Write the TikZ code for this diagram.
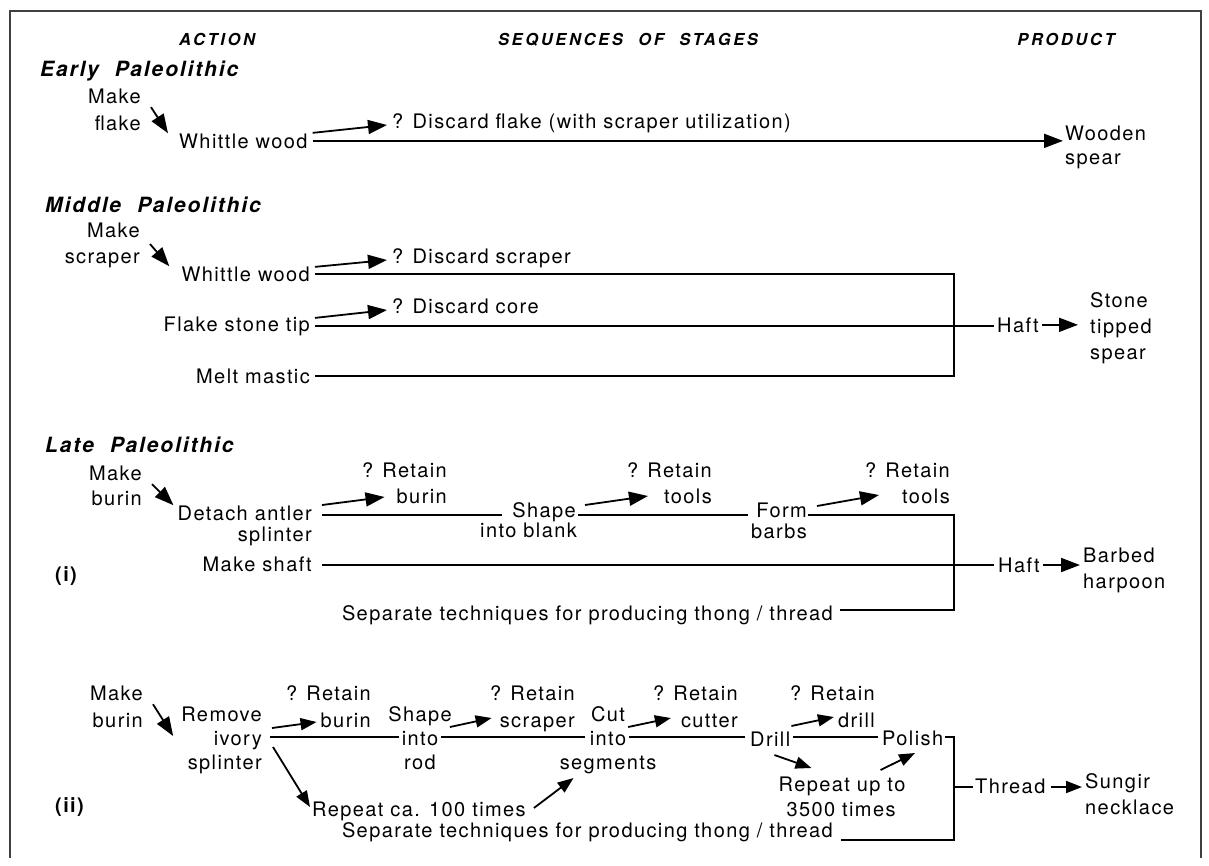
\documentclass[tikz,border=0pt]{standalone}
\usepackage{fontspec}
\setmainfont{TeX Gyre Heros}[LetterSpace=7]
\newfontfamily\headfont{TeX Gyre Heros}[LetterSpace=16]
\newfontfamily\erafont{TeX Gyre Heros}[LetterSpace=9]
\usetikzlibrary{arrows.meta,calc}

\tikzset{
  lbl/.style={font=\fontsize{20}{24}\selectfont, inner sep=0pt},
  lbe/.style={lbl, anchor=base east},
  lbw/.style={lbl, anchor=base west},
  lbc/.style={lbl, anchor=base},
  colhead/.style={font=\headfont\bfseries\itshape\fontsize{16.5}{20}\selectfont, inner sep=0pt, anchor=base},
  era/.style={font=\erafont\bfseries\itshape\fontsize{21}{25}\selectfont, inner sep=0pt, anchor=base west},
  tag/.style={font=\bfseries\fontsize{20}{24}\selectfont, inner sep=0pt, anchor=base west},
  link/.style={line width=1.8pt},
  arr/.style={line width=1.8pt, -{Triangle[length=19pt,width=14pt]}},
  sarr/.style={line width=1.8pt, -{Triangle[length=16pt,width=12pt]}},
  frame/.style={line width=1.2pt, black!75},
}

\begin{document}
\begin{tikzpicture}[x=1pt,y=-1pt]
\useasboundingbox (0,0) rectangle (1209,865);

% outer frame (open at the foot)
\draw[frame] (10,858) -- (10,11) -- (1201,11) -- (1201,858);

% column headings
\node[colhead] (hAct) at (217,45) {ACTION};
\node[colhead] (hSeq) at (628,45) {SEQUENCES\hspace{0.5em} OF\hspace{0.5em} STAGES};
\node[colhead] (hPro) at (1066,45) {PRODUCT};

% ---------------- Early Paleolithic ----------------
\node[era] (eraA) at (40,76) {Early\hspace{0.4em} Paleolithic};
\node[lbe] (mkA1) at (141,103) {Make};
\node[lbe] (mkA2) at (141,130) {flake};
\node[lbw] (whA) at (179,148) {Whittle wood};
\node[lbw] (disA) at (392,128) {? Discard flake (with scraper utilization)};
\node[lbw] (prA1) at (1065,140) {Wooden};
\node[lbw] (prA2) at (1065,164) {spear};

\draw[arr] ($(mkA2.north east)+(10,-8)$) -- ($(whA.north west)+(-11,0)$);
\draw[arr] ($(whA.east)+(5,-8)$) -- ($(disA.base west)+(-5,-3)$);
\draw[arr] ($(whA.east)+(5,0)$) -- ($(prA1.west |- whA.east)+(-2,0)$);

% ---------------- Middle Paleolithic ----------------
\node[era] (eraB) at (45,212) {Middle\hspace{0.4em} Paleolithic};
\node[lbe] (mkB1) at (140,237) {Make};
\node[lbe] (mkB2) at (140,263) {scraper};
\node[lbe] (whB) at (310,281) {Whittle wood};
\node[lbe] (flB) at (310,331) {Flake stone tip};
\node[lbe] (meB) at (310,383) {Melt mastic};
\node[lbw] (disB1) at (392,263) {? Discard scraper};
\node[lbw] (disB2) at (392,313) {? Discard core};
\node[lbw] (haftB) at (997,332) {Haft};
\node[lbw] (prB1) at (1090,307) {Stone};
\node[lbw] (prB2) at (1090,333) {tipped};
\node[lbw] (prB3) at (1090,359) {spear};
\coordinate (jB) at (954,325);

\draw[arr] ($(mkB2.north east)+(10,-8)$) -- ($(whB.north west)+(-12,0)$);
\draw[arr] ($(whB.east)+(5,-7)$) -- ($(disB1.base west)+(-5,-3)$);
\draw[arr] ($(flB.east)+(5,-8)$) -- ($(disB2.base west)+(-5,-3)$);
\draw[link] ($(whB.east)+(5,0)$) -- (jB |- whB.east) -- (jB |- meB.east) -- ($(meB.east)+(5,0)$);
\draw[link] ($(flB.east)+(5,0)$) -- ($(haftB.west |- flB.east)+(-3,0)$);
\draw[arr] ($(haftB.east)+(3,0)$) -- ($(prB2.west |- haftB.east)+(-12,0)$);

% ---------------- Late Paleolithic (i) ----------------
\node[era] (eraC) at (45,452) {Late\hspace{0.4em} Paleolithic};
\node[lbe] (mkC1) at (142,480) {Make};
\node[lbe] (mkC2) at (142,505) {burin};
\node[lbe] (detC1) at (312,520) {Detach antler};
\node[lbe] (detC2) at (312,541) {splinter};
\node[lbe] (rbC1) at (447,477) {? Retain};
\node[lbe] (rbC2) at (447,503) {burin};
\node[lbe] (shC1) at (576,517) {Shape};
\node[lbe] (shC2) at (577,537) {into blank};
\node[lbe] (rtC1) at (712,477) {? Retain};
\node[lbe] (rtC2) at (712,503) {tools};
\node[lbe] (fmC1) at (807,517) {Form};
\node[lbe] (fmC2) at (807,538) {barbs};
\node[lbe] (ruC1) at (950,477) {? Retain};
\node[lbe] (ruC2) at (950,503) {tools};
\node[lbe] (msC) at (312,571) {Make shaft};
\node[lbe] (sepC) at (833,620) {Separate techniques for producing thong / thread};
\node[lbw] (haftC) at (998,572) {Haft};
\node[lbw] (prC1) at (1083,562) {Barbed};
\node[lbw] (prC2) at (1083,588) {harpoon};
\node[tag] (tagI) at (55,581) {(i)};
\coordinate (cTop) at (954,515);
\coordinate (cBot) at (954,610);

\draw[arr] ($(mkC2.north east)+(10,-6)$) -- ($(detC1.north west)+(-4,0)$);
\draw[arr] ($(detC1.base east)+(10,-15)$) -- ($(rbC2.base west)+(-12,-6)$);
\draw[arr] ($(shC1.base east)+(9,-12)$) -- ($(rtC2.base west)+(-16,-7)$);
\draw[arr] ($(fmC1.base east)+(10,-11)$) -- ($(ruC2.base west)+(-23,-8)$);
\draw[link] ($(detC1.base east)+(10,-5)$) -- ($(shC1.base west)+(-10,-2)$);
\draw[link] ($(shC1.base east)+(2,-2)$) -- ($(fmC1.base west)+(-8,-2)$);
\draw[link] ($(fmC1.base east)+(1,-2)$) -- (cTop) -- (cBot) -- ($(sepC.base east)+(7,-10)$);
\draw[link] ($(msC.base east)+(10,-6)$) -- ($(haftC.base west)+(-4,-7)$);
\draw[arr] ($(haftC.base east)+(3,-7)$) -- ($(prC1.base west)+(-3,3)$);

% ---------------- Late Paleolithic (ii) ----------------
\node[lbe] (mkD1) at (143,700) {Make};
\node[lbe] (mkD2) at (143,727) {burin};
\node[lbe] (rmD1) at (262,721) {Remove};
\node[lbe] (rmD2) at (262,745) {ivory};
\node[lbe] (rmD3) at (262,769) {splinter};
\node[lbe] (rD1a) at (371,700) {? Retain};
\node[lbe] (rD1b) at (371,727) {burin};
\node[lbc] (shD1) at (420,721) {Shape};
\node[lbc] (shD2) at (420,745) {into};
\node[lbc] (shD3) at (420,769) {rod};
\node[lbe] (rD2a) at (575,700) {? Retain};
\node[lbe] (rD2b) at (575,727) {scraper};
\node[lbc] (ctD1) at (608,721) {Cut};
\node[lbc] (ctD2) at (608,745) {into};
\node[lbc] (ctD3) at (608,769) {segments};
\node[lbe] (rD3a) at (738,700) {? Retain};
\node[lbe] (rD3b) at (738,727) {cutter};
\node[lbw] (drD) at (750,746) {Drill};
\node[lbe] (rD4a) at (875,700) {? Retain};
\node[lbe] (rD4b) at (875,727) {drill};
\node[lbw] (poD) at (882,745) {Polish};
\node[lbc] (rpD1) at (842,791) {Repeat up to};
\node[lbc] (rpD2) at (841,816) {3500 times};
\node[lbw] (rcD) at (312,816) {Repeat ca. 100 times};
\node[lbe] (sepD) at (833,837) {Separate techniques for producing thong / thread};
\node[lbw] (thD) at (975,793) {Thread};
\node[lbw] (prD1) at (1085,788) {Sungir};
\node[lbw] (prD2) at (1085,814) {necklace};
\node[tag] (tagII) at (55,812) {(ii)};
\coordinate (dTop) at (954,737);
\coordinate (dMid) at (954,787);
\coordinate (dBot) at (954,840);

\draw[arr] ($(mkD2.north east)+(10,-8)$) -- ($(rmD1.base west)+(-8,15)$);
\draw[link] ($(rmD2.base east)+(8,-8)$) -- ($(shD2.base west)+(-3,-8)$);
\draw[link] ($(shD2.base east)+(3,-8)$) -- ($(ctD2.base west)+(-5,-8)$);
\draw[link] ($(ctD2.base east)+(3,-8)$) -- ($(drD.base west)+(-5,-9)$);
\draw[link] ($(drD.base east)+(3,-9)$) -- ($(poD.base west)+(-4,-8)$);
\draw[link] ($(poD.base east)+(2,-8)$) -- (dTop) -- (dBot) -- ($(sepD.base east)+(8,3)$);
\draw[link] (dMid) -- ($(thD.base west)+(-2,-6)$);
\draw[sarr] ($(thD.base east)+(5,-6)$) -- ($(prD1.base west)+(-3,-1)$);

\draw[sarr] ($(rmD2.base east)+(10,-17)$) -- ($(rD1b.base west)+(-4,-5)$);
\draw[sarr] ($(shD1.base east)+(-2,6)$) -- ($(rD2b.base west)+(-8,-9)$);
\draw[sarr] ($(ctD1.base east)+(3,6)$) -- ($(rD3b.base west)+(-10,-9)$);
\draw[sarr] ($(drD.base east)+(1,-20)$) -- ($(rD4b.base west)+(-4,-10)$);
\draw[sarr] ($(drD.base east)+(-16,9)$) -- ($(rpD1.base west)+(33,-23)$);
\draw[sarr] ($(rpD1.base east)+(-25,-21)$) -- ($(poD.base west)+(33,8)$);
\draw[sarr] ($(rmD2.base east)+(11,2)$) -- ($(rcD.base west)+(-2,-9)$);
\draw[sarr] ($(rcD.base east)+(8,-8)$) -- ($(ctD3.base west)+(14,9)$);

\end{tikzpicture}
\end{document}
